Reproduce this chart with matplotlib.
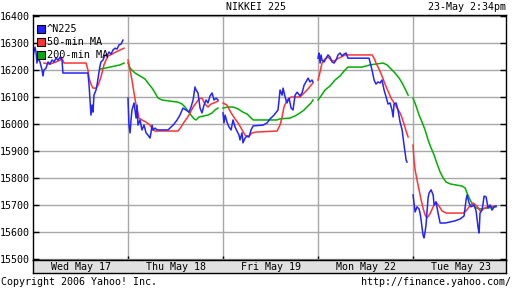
import numpy as np
import matplotlib.pyplot as plt
from matplotlib.lines import Line2D

# time axis: chart hours, every trading day is 9:00-15:00 (6 h), Wed 9:00 = 0
t_n225 = [0.00,0.13,0.19,0.25,0.32,0.44,0.57,0.63,0.69,0.82,0.95,1.07,1.20,1.33,1.45,1.58,1.71,1.83,1.89,
          3.47,3.54,3.60,3.66,3.73,3.79,3.85,3.98,4.04,4.11,4.17,4.23,4.29,4.42,4.55,4.67,4.80,4.93,5.05,5.18,5.31,5.43,5.56,5.68,
          6.00,6.06,6.13,6.19,6.25,6.38,6.51,6.57,6.63,6.76,6.88,7.01,7.14,7.26,7.39,7.45,7.52,7.58,7.71,7.83,
          8.53,8.72,8.91,9.10,9.28,9.47,9.66,9.85,9.98,10.11,10.23,10.30,10.42,10.48,10.55,10.67,10.80,10.93,11.05,11.18,11.31,11.43,11.56,11.68,
          12.00,12.06,12.13,12.25,12.38,12.51,12.63,12.76,12.88,13.01,13.07,13.20,13.26,13.39,13.52,13.64,13.77,13.90,
          14.53,14.78,14.97,15.22,15.47,15.54,15.60,15.73,15.79,15.92,16.04,16.17,16.30,16.42,16.55,16.68,16.86,16.99,17.12,17.24,17.37,17.49,17.62,17.68,
          18.00,18.06,18.13,18.19,18.25,18.38,18.51,18.63,18.76,18.88,19.01,19.14,19.26,19.39,19.52,19.64,19.77,19.89,
          21.22,21.28,21.41,21.54,21.66,21.79,21.92,22.04,22.17,22.30,22.42,22.55,22.67,22.74,22.80,22.93,23.05,23.18,23.31,23.43,23.50,23.56,23.62,
          24.00,24.06,24.13,24.25,24.38,24.44,24.51,24.57,24.63,24.69,24.76,24.82,24.88,24.95,25.01,25.14,25.27,25.33,25.45,25.58,25.71,
          26.02,26.34,26.65,26.97,27.22,27.35,27.41,27.54,27.66,27.85,27.98,28.11,28.17,28.23,28.36,28.49,28.61,28.74,28.86,28.99,29.12,29.24]
v_n225 = [16252,16285,16267,16226,16244,16230,16200,16178,16200,16207,16230,16222,16237,16230,16244,16237,16248,16237,16189,
          16189,16144,16089,16033,16070,16044,16107,16126,16144,16170,16193,16215,16230,16237,16256,16252,16267,16259,16274,16281,16278,16293,16296,16311,
          16096,15996,15967,16015,16052,16078,16022,16070,15996,16015,15978,15996,15967,15959,15948,15967,15996,15978,15985,15978,
          15978,15989,16000,16015,16033,16059,16052,16044,16063,16089,16137,16126,16115,16089,16059,16041,16070,16089,16078,16104,16115,16089,16096,16089,
          16041,16004,16033,16007,15989,15978,16015,15989,15974,15959,15941,15967,15930,15948,15956,15952,15978,15993,
          15996,16004,16019,16033,16052,16089,16126,16107,16133,16100,16078,16096,16059,16052,16107,16118,16104,16115,16144,16156,16170,16156,16163,16156,
          16244,16263,16226,16256,16237,16230,16244,16256,16248,16230,16226,16237,16256,16263,16252,16259,16263,16244,
          16244,16230,16200,16163,16148,16156,16152,16163,16126,16100,16074,16078,16052,16026,16074,16078,16052,16007,15978,15922,15893,15867,15859,
          15737,15707,15674,15693,15685,15670,15644,15615,15589,15578,15600,15626,15674,15726,15744,15756,15737,15700,15711,15670,15633,
          15633,15637,15641,15648,15659,15719,15737,15707,15693,15700,15678,15615,15596,15670,15681,15733,15730,15689,15700,15681,15693,15696]

t_ma50 = [0.69,1.07,1.45,1.71,1.83,1.96,3.35,3.47,3.54,3.66,3.79,3.98,4.11,4.23,4.36,4.48,4.61,4.74,4.99,5.24,5.49,5.75,
          6.00,6.13,6.25,6.38,6.51,6.63,6.69,6.88,7.14,7.39,7.58,7.71,9.16,9.35,9.54,9.73,9.92,10.11,10.30,10.48,10.67,10.86,11.05,11.24,11.43,11.68,
          12.00,12.25,12.51,12.76,12.95,13.14,13.39,13.58,13.83,14.08,15.41,15.60,15.73,15.85,16.04,16.30,16.86,17.12,17.37,17.56,17.68,
          18.00,18.13,18.25,18.44,18.63,18.82,19.01,19.20,19.45,19.71,21.41,21.54,21.66,21.85,22.04,22.23,22.42,22.61,22.80,22.99,23.18,23.31,23.43,23.56,23.69,
          24.00,24.06,24.13,24.25,24.38,24.51,24.63,24.76,24.88,25.07,25.27,25.45,25.64,25.83,26.09,27.16,27.35,27.54,27.79,28.04,28.23,28.42,28.68,29.24]
v_ma50 = [16226,16222,16230,16237,16244,16226,16226,16200,16170,16148,16133,16133,16144,16163,16189,16219,16237,16252,16259,16267,16274,16281,
          16237,16200,16163,16115,16070,16041,16022,16015,16007,15996,15978,15974,15974,15989,16007,16022,16041,16063,16078,16093,16096,16074,16063,16074,16078,16085,
          16078,16070,16041,16019,16004,15985,15959,15952,15967,15970,15974,15996,16026,16063,16089,16100,16100,16115,16130,16144,16152,
          16163,16193,16226,16241,16248,16237,16233,16241,16248,16256,16256,16244,16226,16204,16178,16148,16122,16096,16078,16059,16041,16022,16000,15974,15952,
          15922,15867,15830,15793,15756,15719,15689,15663,15652,15667,15693,15711,15696,15678,15670,15670,15678,15693,15707,15696,15678,15685,15693,15696]

t_ma200 = [4.23,4.55,4.86,5.18,5.49,5.75,
           6.00,6.13,6.44,6.76,7.07,7.26,7.52,7.71,7.90,8.15,8.65,9.16,9.41,9.60,9.79,9.98,10.17,10.30,10.48,10.80,11.05,11.31,11.49,11.68,
           12.00,12.32,12.63,12.95,13.26,13.52,13.71,13.90,15.41,15.60,16.23,16.55,16.86,17.12,17.37,17.56,17.68,
           18.00,18.19,18.44,18.76,19.07,19.39,19.64,19.89,20.78,21.28,22.10,22.36,22.61,22.86,23.12,23.31,23.50,23.69,
           24.00,24.19,24.38,24.57,24.76,24.95,25.14,25.33,25.52,25.71,25.90,26.09,26.34,26.72,27.10,27.29,27.41,27.60,27.79,27.98,28.23,28.74,29.24]
v_ma200 = [16204,16207,16211,16215,16219,16226,
           16226,16207,16189,16178,16167,16152,16133,16115,16096,16089,16085,16081,16074,16063,16048,16033,16019,16015,16026,16030,16033,16041,16052,16059,
           16059,16063,16063,16056,16044,16037,16026,16015,16015,16019,16022,16030,16041,16052,16067,16078,16089,
           16089,16104,16126,16141,16163,16178,16196,16211,16211,16219,16226,16219,16204,16189,16170,16152,16130,16107,
           16096,16067,16033,16007,15978,15941,15911,15885,15852,15822,15800,15785,15778,15774,15770,15763,15744,15719,15700,15689,15685,15689,15693]

days = ["Wed May 17", "Thu May 18", "Fri May 19", "Mon May 22", "Tue May 23"]
yticks = [15500, 15600, 15700, 15800, 15900, 16000, 16100, 16200, 16300, 16400]

plt.rcParams['font.family'] = ['DejaVu Sans Mono']
plt.rcParams['font.size'] = 7.2

W, H = 512, 288
fig = plt.figure(figsize=(W/100, H/100), dpi=100)
ax = fig.add_axes([33/W, 1-260/H, 473/W, 245/H])
band = fig.add_axes([33/W, 1-273/H, 473/W, 13/H])

series = [(t_ma200, v_ma200, '#00b000', '200-min MA'),
          (t_ma50, v_ma50, '#ff3333', '50-min MA'),
          (t_n225, v_n225, '#2424ff', '^N225')]
for t, v, c, lab in series:
    t = np.array(t); v = np.array(v)
    for d in range(5):
        m = (t >= 6*d) & (t < 6*d+6)
        ax.plot(t[m], v[m], color=c, lw=1.1)

ax.set_xlim(0, 29.87)
ax.set_ylim(15496, 16404)
ax.set_xticks([6, 12, 18, 24])
ax.set_xticklabels([])
ax.set_yticks(yticks)
ax.set_yticklabels([str(y) for y in yticks])
ax.tick_params(axis='y', direction='in', length=4, width=1, left=True, right=True, pad=2)
ax.tick_params(axis='x', direction='in', length=3, width=1, bottom=True, top=False)
ax.grid(True, color='#a8a8a8', lw=1)
ax.set_axisbelow(True)
for s in ax.spines.values():
    s.set_linewidth(1.0)

hand = [Line2D([], [], marker='s', ls='none', mfc=c, mec='black', mew=0.8, ms=5.5)
        for c in ['#2424ff', '#ff3333', '#00b000']]
ax.legend(hand, ['^N225', '50-min MA', '200-min MA'], loc='upper left', frameon=False,
          bbox_to_anchor=(0.0, 0.975), handletextpad=0.05, handlelength=1.0,
          borderaxespad=0.1, borderpad=0.2, labelspacing=0.3, fontsize=7.4)

# day label strip
band.set_xlim(0, 29.87)
band.set_ylim(0, 1)
band.set_facecolor('#e0e0e0')
band.set_xticks([]); band.set_yticks([])
for s in band.spines.values():
    s.set_linewidth(1.0)
for i, lab in enumerate(days):
    band.text(6*i+3, 0.45, lab, ha='center', va='center')

fig.text(256/W, 1-7/H, 'NIKKEI 225', ha='center', va='center')
fig.text(506/W, 1-7/H, '23-May 2:34pm', ha='right', va='center')
fig.text(1/W, 1-282/H, 'Copyright 2006 Yahoo! Inc.', ha='left', va='center')
fig.text(511/W, 1-282/H, 'http://finance.yahoo.com/', ha='right', va='center')

fig.savefig('out.png', dpi=100)
